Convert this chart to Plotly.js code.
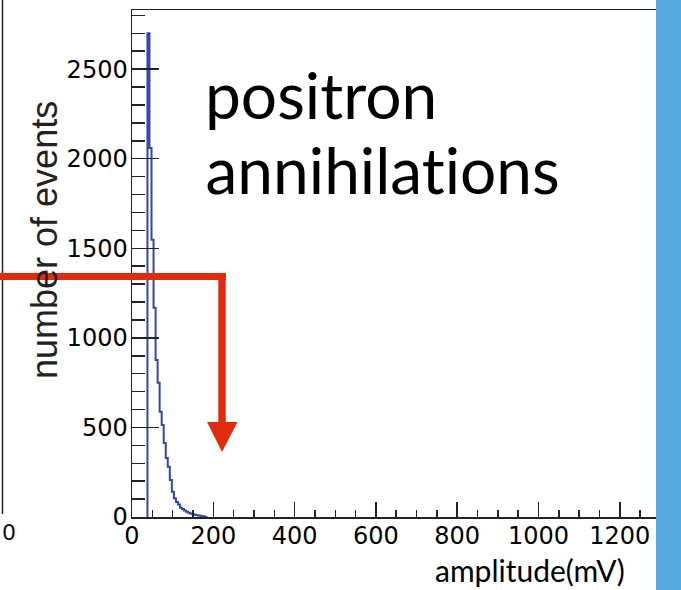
<!DOCTYPE html>
<html>
<head>
<meta charset="utf-8">
<script src="https://cdn.plot.ly/plotly-3.0.1.min.js"></script>
<style>
  html, body { margin: 0; padding: 0; background: #ffffff; }
  #chart { width: 681px; height: 590px; }
  #chart text { font-variant-ligatures: none; font-feature-settings: "liga" 0, "clig" 0; }
</style>
</head>
<body>
<div id="chart"></div>
<script>
// ---- data ----
// lower edge of each amplitude bin (mV)
const binLowEdges = [38, 43, 48, 53, 58, 63, 68, 73, 78, 83, 88, 93, 98, 103, 108,
                     113, 118, 123, 128, 133, 138, 143, 148, 153, 158, 163, 168, 173, 178];
const binUpperEnd = 183;
// number of events per bin
const eventCounts = [2700, 2060, 1547, 1168, 877, 749, 588, 514, 413, 330, 281, 207, 141, 104, 84,
                     70, 52, 45, 36, 30, 24, 19, 16, 13, 10, 8, 6, 4, 2];
const xTickValues = [0, 200, 400, 600, 800, 1000, 1200];
const yTickValues = [0, 500, 1000, 1500, 2000, 2500];
const xLabel = "amplitude(mV)";
const yLabel = "number of events";
const noteLines = ["positron", "annihilations"];

// ---- build step outline (ROOT-style histogram) ----
const stepX = [binLowEdges[0]].concat(binLowEdges, [binUpperEnd]);
const stepY = [0].concat(eventCounts, [0]);

// pixel -> paper helpers (plot area: left 132, top 10, right 681, bottom 517)
const L = 132, T = 10, R = 681, B = 517;
const W = R - L, H = B - T;
const px = v => (v - L) / W;
const py = v => (B - v) / H;

const red = '#e22b0c';

const trace = {
  type: 'scatter',
  mode: 'lines',
  x: stepX,
  y: stepY,
  line: { shape: 'hv', color: '#3446a8', width: 2 },
  hoverinfo: 'x+y',
  showlegend: false
};

const tickFont = { family: 'DejaVu Sans, Liberation Sans, sans-serif', size: 24, color: '#000' };

const layout = {
  width: 681,
  height: 590,
  margin: { l: L, r: 0, t: T, b: 590 - B, pad: 0 },
  paper_bgcolor: '#ffffff',
  plot_bgcolor: '#ffffff',
  showlegend: false,
  xaxis: {
    range: [0, 1350.5],
    tickmode: 'array',
    tickvals: xTickValues,
    ticktext: xTickValues.map(String),
    ticks: 'inside',
    ticklen: 15,
    tickwidth: 1.5,
    tickcolor: '#222',
    minor: { dtick: 50, tick0: 0, ticks: 'inside', ticklen: 7, tickwidth: 1.5, tickcolor: '#222' },
    showline: true,
    linecolor: '#222',
    linewidth: 1.5,
    mirror: true,
    showgrid: false,
    zeroline: false,
    tickfont: tickFont,
    ticklabelstandoff: -3
  },
  yaxis: {
    range: [0, 2830],
    tickmode: 'array',
    tickvals: yTickValues,
    ticktext: yTickValues.map(String),
    ticks: 'inside',
    ticklen: 27,
    tickwidth: 1.5,
    tickcolor: '#222',
    minor: { dtick: 100, tick0: 0, ticks: 'inside', ticklen: 13, tickwidth: 1.5, tickcolor: '#222' },
    showline: true,
    linecolor: '#222',
    linewidth: 1.5,
    mirror: true,
    showgrid: false,
    zeroline: false,
    tickfont: tickFont,
    ticklabelstandoff: -2
  },
  annotations: [
    {
      // y-axis title (placed as in the reference, above the axis centre)
      xref: 'paper', yref: 'paper', x: px(44), y: py(240),
      xanchor: 'center', yanchor: 'middle', showarrow: false, textangle: -90,
      text: yLabel,
      font: { family: 'Liberation Sans, Arial, sans-serif', size: 36, color: '#222' }
    },
    {
      xref: 'paper', yref: 'paper', x: px(203), y: py(95),
      xanchor: 'left', yanchor: 'middle', showarrow: false,
      text: noteLines[0],
      font: { family: 'Lato, Open Sans, sans-serif', size: 64, color: '#000' }
    },
    {
      xref: 'paper', yref: 'paper', x: px(203), y: py(170),
      xanchor: 'left', yanchor: 'middle', showarrow: false,
      text: noteLines[1],
      font: { family: 'Lato, Open Sans, sans-serif', size: 64, color: '#000' }
    },
    {
      xref: 'paper', yref: 'paper', x: px(530), y: py(570),
      xanchor: 'center', yanchor: 'middle', showarrow: false,
      text: xLabel,
      font: { family: 'Lato, Open Sans, sans-serif', size: 30, color: '#000' }
    },
    {
      // tick label of the neighbouring (cropped) panel on the left
      xref: 'paper', yref: 'paper', x: px(0), y: py(532),
      xanchor: 'left', yanchor: 'middle', showarrow: false,
      text: '0',
      font: { family: 'DejaVu Sans, sans-serif', size: 22, color: '#111' }
    }
  ],
  shapes: [
    // frame edge of the neighbouring panel on the left
    { type: 'line', xref: 'paper', yref: 'paper', x0: px(2.5), x1: px(2.5), y0: py(-2), y1: py(514),
      line: { color: '#222', width: 1.5 }, layer: 'above' },
    // red arrow: horizontal bar
    { type: 'rect', xref: 'paper', yref: 'paper', x0: px(-5), x1: px(226), y0: py(280), y1: py(273),
      fillcolor: red, line: { width: 0 }, layer: 'above' },
    // red arrow: vertical bar
    { type: 'rect', xref: 'paper', yref: 'paper', x0: px(218.3), x1: px(225.7), y0: py(424), y1: py(273),
      fillcolor: red, line: { width: 0 }, layer: 'above' },
    // red arrow: head
    { type: 'path', xref: 'paper', yref: 'paper',
      path: 'M ' + px(207) + ',' + py(422) + ' L ' + px(237.5) + ',' + py(422) + ' L ' + px(222) + ',' + py(452) + ' Z',
      fillcolor: red, line: { width: 0 }, layer: 'above' },
    // slide background strip on the right
    { type: 'rect', xref: 'paper', yref: 'paper', x0: px(656), x1: px(690), y0: py(600), y1: py(-10),
      fillcolor: '#57a9e1', line: { width: 0 }, layer: 'above' }
  ]
};

Plotly.newPlot('chart', [trace], layout, { displayModeBar: false, staticPlot: true });
</script>
</body>
</html>
